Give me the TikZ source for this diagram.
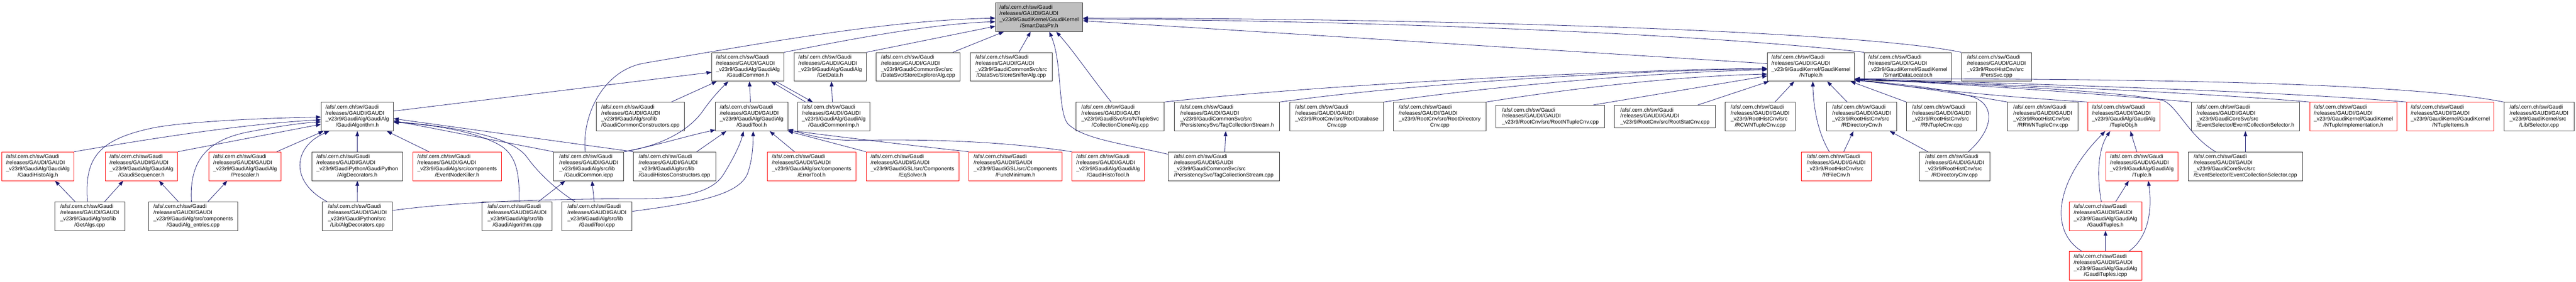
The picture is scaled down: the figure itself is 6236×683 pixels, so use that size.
\documentclass[tikz,border=0pt]{standalone}
\usepackage{fontspec}
\setmainfont{Liberation Sans}
\usetikzlibrary{arrows.meta}
\definecolor{edgeblue}{RGB}{25,25,112}
\definecolor{boxgray}{RGB}{191,191,191}
\definecolor{boxred}{RGB}{255,0,0}
\newcommand\gfont{\fontsize{13}{14.75}\selectfont}
\newcommand\gtxt[2]{\begin{tabular}{@{}l@{}}/afs/.cern.ch/sw/Gaudi\\/releases/GAUDI/GAUDI\\#1\\\multicolumn{1}{@{}c@{}}{#2}\end{tabular}}
\newcommand\gtxtiii[1]{\begin{tabular}{@{}l@{}}/afs/.cern.ch/sw/Gaudi\\/releases/GAUDI/GAUDI\\#1\end{tabular}}
\tikzset{
  filebox/.style={draw=black!80, line width=1.1pt, fill=white, inner sep=0pt, minimum height=69.6pt, font=\gfont},
  redbox/.style={filebox, draw=boxred},
  rootbox/.style={filebox, fill=boxgray},
  conn/.style={draw=edgeblue, line width=1pt, -{Triangle[length=12pt,width=9pt]}},
}
\begin{document}
\begin{tikzpicture}[x=1pt,y=-1pt]
\path[fill=white] (0,0) rectangle (6236,683);
\useasboundingbox (0,0) rectangle (6236,683);

% ---------- row 1
\node[rootbox, minimum width=211pt] (SmartDataPtr) at (2515.5,41.6) {\gtxt{\_v23r9/GaudiKernel/GaudiKernel}{/SmartDataPtr.h}};

% ---------- row 2
\node[filebox, minimum width=175pt] (GaudiCommonH) at (1810.5,162) {\gtxt{\_v23r9/GaudiAlg/GaudiAlg}{/GaudiCommon.h}};
\node[filebox, minimum width=175pt] (GetData) at (2009.5,162) {\gtxt{\_v23r9/GaudiAlg/GaudiAlg}{/GetData.h}};
\node[filebox, minimum width=204pt] (StoreExplorer) at (2222.5,162) {\gtxt{\_v23r9/GaudiCommonSvc/src}{/DataSvc/StoreExplorerAlg.cpp}};
\node[filebox, minimum width=198pt] (StoreSniffer) at (2448,162) {\gtxt{\_v23r9/GaudiCommonSvc/src}{/DataSvc/StoreSnifferAlg.cpp}};
\node[filebox, minimum width=211pt] (NTuple) at (4384,162) {\gtxt{\_v23r9/GaudiKernel/GaudiKernel}{/NTuple.h}};
\node[filebox, minimum width=211pt] (SmartDataLocator) at (4618.5,162) {\gtxt{\_v23r9/GaudiKernel/GaudiKernel}{/SmartDataLocator.h}};
\node[filebox, minimum width=170pt] (PersSvc) at (4833,162) {\gtxt{\_v23r9/RootHistCnv/src}{/PersSvc.cpp}};

% ---------- row 3
\node[filebox, minimum width=175pt] (GaudiAlgH) at (865,282.6) {\gtxt{\_v23r9/GaudiAlg/GaudiAlg}{/GaudiAlgorithm.h}};
\node[filebox, minimum width=213pt] (GaudiCommonConstr) at (1550.3,282.6) {\gtxt{\_v23r9/GaudiAlg/src/lib}{/GaudiCommonConstructors.cpp}};
\node[filebox, minimum width=175pt] (GaudiToolH) at (1819.7,282.6) {\gtxt{\_v23r9/GaudiAlg/GaudiAlg}{/GaudiTool.h}};
\node[filebox, minimum width=175pt] (GaudiCommonImp) at (2018.5,282.6) {\gtxt{\_v23r9/GaudiAlg/GaudiAlg}{/GaudiCommonImp.h}};
\node[filebox, minimum width=213pt] (CollClone) at (2711.7,282.6) {\gtxt{\_v23r9/GaudiSvc/src/NTupleSvc}{/CollectionCloneAlg.cpp}};
\node[filebox, minimum width=254pt] (TagCollH) at (2970.5,282.6) {\gtxt{\_v23r9/GaudiCommonSvc/src}{/PersistencySvc/TagCollectionStream.h}};
\node[filebox, minimum width=227pt] (RootDatabase) at (3236,282.6) {\gtxt{\_v23r9/RootCnv/src/RootDatabase}{Cnv.cpp}};
\node[filebox, minimum width=224pt] (RootDirectory) at (3485.3,282.6) {\gtxt{\_v23r9/RootCnv/src/RootDirectory}{Cnv.cpp}};
\node[filebox, minimum width=263pt, minimum height=55.2pt] (RootNTuple) at (3753.2,282.6) {\gtxtiii{\_v23r9/RootCnv/src/RootNTupleCnv.cpp}};
\node[filebox, minimum width=244pt, minimum height=55.2pt] (RootStat) at (4030.5,282.6) {\gtxtiii{\_v23r9/RootCnv/src/RootStatCnv.cpp}};
\node[filebox, minimum width=169pt] (RCWN) at (4261,282.6) {\gtxt{\_v23r9/RootHistCnv/src}{/RCWNTupleCnv.cpp}};
\node[filebox, minimum width=169pt] (RDirCnvH) at (4506.7,282.6) {\gtxt{\_v23r9/RootHistCnv/src}{/RDirectoryCnv.h}};
\node[filebox, minimum width=169pt] (RNTupleCnv) at (4700,282.6) {\gtxt{\_v23r9/RootHistCnv/src}{/RNTupleCnv.cpp}};
\node[filebox, minimum width=170pt] (RRWN) at (4945,282.6) {\gtxt{\_v23r9/RootHistCnv/src}{/RRWNTupleCnv.cpp}};
\node[redbox, minimum width=175pt] (TupleObj) at (5141.2,282.6) {\gtxt{\_v23r9/GaudiAlg/GaudiAlg}{/TupleObj.h}};
\node[filebox, minimum width=263pt] (EvColSelH) at (5435.7,282.6) {\gtxt{\_v23r9/GaudiCoreSvc/src}{/EventSelector/EventCollectionSelector.h}};
\node[redbox, minimum width=211pt] (NTupleImpl) at (5697,282.6) {\gtxt{\_v23r9/GaudiKernel/GaudiKernel}{/NTupleImplementation.h}};
\node[redbox, minimum width=211pt] (NTupleItems) at (5931.7,282.6) {\gtxt{\_v23r9/GaudiKernel/GaudiKernel}{/NTupleItems.h}};
\node[filebox, minimum width=170pt] (Selector) at (6146.5,282.6) {\gtxt{\_v23r9/GaudiKernel/src}{/Lib/Selector.cpp}};

% ---------- row 4
\node[redbox, minimum width=175pt] (GaudiHistoAlg) at (91.7,403) {\gtxt{\_v23r9/GaudiAlg/GaudiAlg}{/GaudiHistoAlg.h}};
\node[redbox, minimum width=175pt] (GaudiSequencer) at (342.5,403) {\gtxt{\_v23r9/GaudiAlg/GaudiAlg}{/GaudiSequencer.h}};
\node[redbox, minimum width=175pt] (Prescaler) at (593.2,403) {\gtxt{\_v23r9/GaudiAlg/GaudiAlg}{/Prescaler.h}};
\node[filebox, minimum width=218.6pt] (AlgDecH) at (865,403) {\gtxt{\_v23r9/GaudiPython/GaudiPython}{/AlgDecorators.h}};
\node[redbox, minimum width=215pt] (EventNodeKiller) at (1106.5,403) {\gtxt{\_v23r9/GaudiAlg/src/components}{/EventNodeKiller.h}};
\node[filebox, minimum width=170pt] (GaudiCommonIcpp) at (1425.2,403) {\gtxt{\_v23r9/GaudiAlg/src/lib}{/GaudiCommon.icpp}};
\node[filebox, minimum width=199pt] (GaudiHistosConstr) at (1632.8,403) {\gtxt{\_v23r9/GaudiAlg/src/lib}{/GaudiHistosConstructors.cpp}};
\node[redbox, minimum width=215pt] (ErrorTool) at (1964.8,403) {\gtxt{\_v23r9/GaudiAlg/src/components}{/ErrorTool.h}};
\node[redbox, minimum width=225pt] (EqSolver) at (2209,403) {\gtxt{\_v23r9/GaudiGSL/src/Components}{/EqSolver.h}};
\node[redbox, minimum width=225pt] (FuncMinimum) at (2458.3,403) {\gtxt{\_v23r9/GaudiGSL/src/Components}{/FuncMinimum.h}};
\node[redbox, minimum width=175pt] (GaudiHistoTool) at (2682.5,403) {\gtxt{\_v23r9/GaudiAlg/GaudiAlg}{/GaudiHistoTool.h}};
\node[filebox, minimum width=270pt] (TagCollCpp) at (2962.5,403) {\gtxt{\_v23r9/GaudiCommonSvc/src}{/PersistencySvc/TagCollectionStream.cpp}};
\node[redbox, minimum width=170pt] (RFileCnv) at (4445.2,403) {\gtxt{\_v23r9/RootHistCnv/src}{/RFileCnv.h}};
\node[filebox, minimum width=170pt] (RDirCnvCpp) at (4731.8,403) {\gtxt{\_v23r9/RootHistCnv/src}{/RDirectoryCnv.cpp}};
\node[redbox, minimum width=175pt] (Tuple) at (5185,403) {\gtxt{\_v23r9/GaudiAlg/GaudiAlg}{/Tuple.h}};
\node[filebox, minimum width=278pt] (EvColSelCpp) at (5435.8,403) {\gtxt{\_v23r9/GaudiCoreSvc/src}{/EventSelector/EventCollectionSelector.cpp}};

% ---------- row 5
\node[filebox, minimum width=170pt] (GetAlgs) at (217.2,524) {\gtxt{\_v23r9/GaudiAlg/src/lib}{/GetAlgs.cpp}};
\node[filebox, minimum width=215pt] (GaudiAlgEntries) at (467.7,524) {\gtxt{\_v23r9/GaudiAlg/src/components}{/GaudiAlg\_entries.cpp}};
\node[filebox, minimum width=170pt] (AlgDecCpp) at (865.2,524) {\gtxt{\_v23r9/GaudiPython/src}{/Lib/AlgDecorators.cpp}};
\node[filebox, minimum width=169pt] (GaudiAlgCpp) at (1251.7,524) {\gtxt{\_v23r9/GaudiAlg/src/lib}{/GaudiAlgorithm.cpp}};
\node[filebox, minimum width=170pt] (GaudiToolCpp) at (1445.2,524) {\gtxt{\_v23r9/GaudiAlg/src/lib}{/GaudiTool.cpp}};
\node[redbox, minimum width=175pt] (GaudiTuplesH) at (5097,524) {\gtxt{\_v23r9/GaudiAlg/GaudiAlg}{/GaudiTuples.h}};

% ---------- row 6
\node[redbox, minimum width=175pt] (GaudiTuplesIcpp) at (5097,644.5) {\gtxt{\_v23r9/GaudiAlg/GaudiAlg}{/GaudiTuples.icpp}};

% ---------- edges into SmartDataPtr.h
\draw[conn] ([xshift=-8.5pt]GaudiCommonIcpp.north) .. controls (1408,280) and (1460,170) .. (1560,153) .. controls (1900,95) and (2150,50) .. ([yshift=-2.2pt]SmartDataPtr.west);
\draw[conn] (GaudiCommonH.north east) .. controls (2050,97) and (2250,58) .. ([yshift=-10.9pt]SmartDataPtr.west);
\draw[conn] (GetData.north east) -- ([yshift=-21.9pt]SmartDataPtr.west);
\draw[conn] ([xshift=84.2pt]StoreExplorer.north) -- ([xshift=-85.5pt]SmartDataPtr.south);
\draw[conn] ([xshift=18.7pt]StoreSniffer.north) -- ([xshift=-20.5pt]SmartDataPtr.south);
\draw[conn] ([yshift=-6pt]TagCollCpp.north west) .. controls (2700,345) and (2620,335) .. (2585,300) .. controls (2560,270) and (2572,150) .. ([xshift=24.5pt]SmartDataPtr.south);
\draw[conn] ([xshift=-21.7pt]CollClone.north) .. controls (2640,185) and (2600,125) .. ([xshift=41.5pt]SmartDataPtr.south);
\draw[conn] ([yshift=7.9pt]NTuple.west) -- ([yshift=-8.7pt]SmartDataPtr.east);
\draw[conn] (SmartDataLocator.north west) .. controls (4100,80) and (3300,50) .. ([yshift=-4.4pt]SmartDataPtr.east);
\draw[conn] (PersSvc.north west) .. controls (4500,75) and (3500,45) .. ([yshift=-2.2pt]SmartDataPtr.east);

% ---------- GaudiCommon.h / GaudiCommonImp.h / GetData.h
\draw[conn] ([yshift=13.4pt]GaudiAlgH.east) -- ([yshift=-13.1pt]GaudiCommonH.west);
\draw[conn] ([xshift=74.7pt]GaudiCommonConstr.north) -- ([xshift=-75.5pt]GaudiCommonH.south);
\draw[conn] (GaudiCommonIcpp.north east) .. controls (1620,350) and (1675,305) .. (1700,271) .. controls (1720,242) and (1740,220) .. ([xshift=-47.5pt]GaudiCommonH.south);
\draw[conn] ([xshift=-3pt]GaudiToolH.north) -- ([xshift=3.8pt]GaudiCommonH.south);
\draw[conn] ([xshift=-68.5pt]GaudiCommonImp.north) -- ([xshift=56pt]GaudiCommonH.south);
\draw[conn] ([xshift=67.8pt]GaudiCommonH.south) -- ([xshift=-51.2pt]GaudiCommonImp.north);
\draw[conn] ([xshift=-3.5pt]GaudiCommonImp.north) -- ([xshift=3.2pt]GetData.south);

% ---------- GaudiAlgorithm.h
\draw[conn] ([xshift=-5.5pt]GetAlgs.north) .. controls (205,390) and (230,340) .. (366.7,310.8) .. controls (430,297) and (600,287) .. ([yshift=-1.1pt]GaudiAlgH.west);
\draw[conn] (GaudiHistoAlg.north east) .. controls (400,330) and (600,300) .. ([yshift=-7.7pt]GaudiAlgH.west);
\draw[conn] ([xshift=-4.4pt]GaudiAlgEntries.north) .. controls (458,390) and (500,340) .. (600,320) .. controls (680,305) and (730,298) .. ([yshift=-12.9pt]GaudiAlgH.west);
\draw[conn] (GaudiSequencer.north east) -- ([yshift=-18.6pt]GaudiAlgH.west);
\draw[conn] ([xshift=76.8pt]Prescaler.north) -- ([xshift=-82pt]GaudiAlgH.south);
\draw[conn] ([xshift=-73.5pt]AlgDecCpp.north) .. controls (700,440) and (710,355) .. ([xshift=-68pt]GaudiAlgH.south);
\draw[conn] (AlgDecH.north) -- (GaudiAlgH.south);
\draw[conn] ([xshift=-68.2pt]EventNodeKiller.north) -- ([xshift=71.7pt]GaudiAlgH.south);
\draw[conn] (GaudiHistosConstr.north west) -- ([yshift=-5pt]GaudiAlgH.east);
\draw[conn] (GaudiCommonIcpp.north west) -- ([yshift=-10pt]GaudiAlgH.east);
\draw[conn] ([xshift=5pt]GaudiAlgCpp.north) .. controls (1258,420) and (1250,380) .. (1215,355) .. controls (1160,320) and (1050,302) .. ([yshift=-14pt]GaudiAlgH.east);
\draw[conn] ([xshift=-53.5pt]GaudiToolCpp.north) .. controls (1340,455) and (1300,415) .. (1275,380) .. controls (1245,340) and (1150,312) .. ([yshift=-12pt]GaudiAlgH.east);

% ---------- lower left
\draw[conn] ([xshift=-35.5pt]GetAlgs.north) -- ([xshift=41.6pt]GaudiHistoAlg.south);
\draw[conn] ([xshift=36.1pt]GetAlgs.north) -- ([xshift=-44.2pt]GaudiSequencer.south);
\draw[conn] ([xshift=-36pt]GaudiAlgEntries.north) -- ([xshift=42.5pt]GaudiSequencer.south);
\draw[conn] ([xshift=35.6pt]GaudiAlgEntries.north) -- ([xshift=-43.2pt]Prescaler.south);
\draw[conn] (AlgDecCpp.north) -- (AlgDecH.south);
\draw[conn] ([xshift=51.6pt]GaudiAlgCpp.north) -- ([xshift=-56.9pt]GaudiCommonIcpp.south);
\draw[conn] ([xshift=-6.9pt]GaudiToolCpp.north) -- ([xshift=8.1pt]GaudiCommonIcpp.south);

% ---------- GaudiTool.h
\draw[conn] (GaudiCommonIcpp.north east) .. controls (1600,350) and (1660,330) .. ([yshift=3pt]GaudiToolH.south west);
\draw[conn] ([xshift=53.9pt]GaudiHistosConstr.north) -- ([xshift=-61.7pt]GaudiToolH.south);
\draw[conn] ([yshift=14pt]AlgDecCpp.east) .. controls (1100,490) and (1300,482) .. (1560,481.6) .. controls (1680,481) and (1730,455) .. (1750,425) .. controls (1775,385) and (1792,350) .. ([xshift=-19.7pt]GaudiToolH.south);
\draw[conn] ([yshift=11.8pt]GaudiToolCpp.east) .. controls (1700,490) and (1790,470) .. (1810,420) .. controls (1822,385) and (1823,350) .. ([xshift=3.6pt]GaudiToolH.south);
\draw[conn] ([xshift=-41.5pt]ErrorTool.north) -- ([xshift=43.6pt]GaudiToolH.south);
\draw[conn] (EqSolver.north west) -- (GaudiToolH.south east);
\draw[conn] (FuncMinimum.north west) .. controls (2200,352) and (2000,328) .. ([yshift=2.5pt]GaudiToolH.south east);
\draw[conn] (GaudiHistoTool.north west) .. controls (2400,338) and (2200,338) .. (2080,340) .. controls (2000,342) and (1950,325) .. ([yshift=4pt]GaudiToolH.south east);

% ---------- TagCollectionStream
\draw[conn] ([xshift=2.5pt]TagCollCpp.north) -- ([xshift=-3.2pt]TagCollH.south);

% ---------- NTuple.h
\draw[conn] (CollClone.north east) .. controls (3200,205) and (3900,170) .. ([yshift=-3.5pt]NTuple.west);
\draw[conn] (TagCollH.north east) .. controls (3400,205) and (3900,172) .. ([yshift=-5pt]NTuple.west);
\draw[conn] (RootDatabase.north east) .. controls (3600,210) and (4000,175) .. ([yshift=-7pt]NTuple.west);
\draw[conn] (RootDirectory.north east) .. controls (3800,215) and (4050,185) .. ([yshift=-17.5pt]NTuple.west);
\draw[conn] ([xshift=103.5pt]RootNTuple.north) -- ([yshift=-22pt]NTuple.west);
\draw[conn] ([xshift=79.5pt]RootStat.north) -- ([xshift=4pt]NTuple.south west);
\draw[conn] ([xshift=35.7pt]RCWN.north) -- ([xshift=-40.7pt]NTuple.south);
\draw[conn] ([xshift=-16.9pt]RFileCnv.north) .. controls (4400,320) and (4390,260) .. ([xshift=4.3pt]NTuple.south);
\draw[conn] ([xshift=-35pt]RDirCnvH.north) -- ([xshift=39.3pt]NTuple.south);
\draw[conn] (RNTupleCnv.north west) -- ([xshift=96pt]NTuple.south);
\draw[conn] ([xshift=33.2pt]RDirCnvCpp.north) .. controls (4830,310) and (4830,250) .. (4770,233) .. controls (4700,214) and (4600,203) .. ([yshift=-33pt]NTuple.east);
\draw[conn] (RRWN.north west) .. controls (4750,228) and (4600,205) .. ([yshift=-32pt]NTuple.east);
\draw[conn] (TupleObj.north west) .. controls (4800,232) and (4600,208) .. ([yshift=-31pt]NTuple.east);
\draw[conn] (EvColSelH.north west) .. controls (5050,225) and (4700,200) .. ([yshift=-30pt]NTuple.east);
\draw[conn] ([xshift=-72.5pt]EvColSelCpp.north) .. controls (5300,330) and (5275,265) .. (5240,245) .. controls (5180,225) and (4800,203) .. ([yshift=-31pt]NTuple.east);
\draw[conn] (NTupleImpl.north west) .. controls (5300,222) and (4800,203) .. ([yshift=-30pt]NTuple.east);
\draw[conn] (NTupleItems.north west) .. controls (5500,220) and (4900,203) .. ([yshift=-29pt]NTuple.east);
\draw[conn] (Selector.north west) .. controls (5850,205) and (5300,190) .. ([yshift=-29pt]NTuple.east);

% ---------- RootHistCnv
\draw[conn] ([xshift=18.1pt]RFileCnv.north) -- ([xshift=-20pt]RDirCnvH.south);
\draw[conn] ([xshift=-65pt]RDirCnvCpp.north) -- ([xshift=68.3pt]RDirCnvH.south);

% ---------- Tuples
\draw[conn] ([xshift=-12.3pt]Tuple.north) -- ([xshift=16pt]TupleObj.south);
\draw[conn] ([xshift=-10.3pt]GaudiTuplesH.north) .. controls (5075,420) and (5080,360) .. ([xshift=-33pt]TupleObj.south);
\draw[conn] ([xshift=-57pt]GaudiTuplesIcpp.north) .. controls (4960,560) and (4975,440) .. ([xshift=-45pt]TupleObj.south);
\draw[conn] ([xshift=24.7pt]GaudiTuplesH.north) -- ([xshift=-31.7pt]Tuple.south);
\draw[conn] ([xshift=56.3pt]GaudiTuplesIcpp.north) .. controls (5195,580) and (5212,520) .. ([xshift=15.5pt]Tuple.south);
\draw[conn] (GaudiTuplesIcpp.north) -- (GaudiTuplesH.south);

% ---------- EventCollectionSelector
\draw[conn] (EvColSelCpp.north) -- (EvColSelH.south);
\end{tikzpicture}
\end{document}
